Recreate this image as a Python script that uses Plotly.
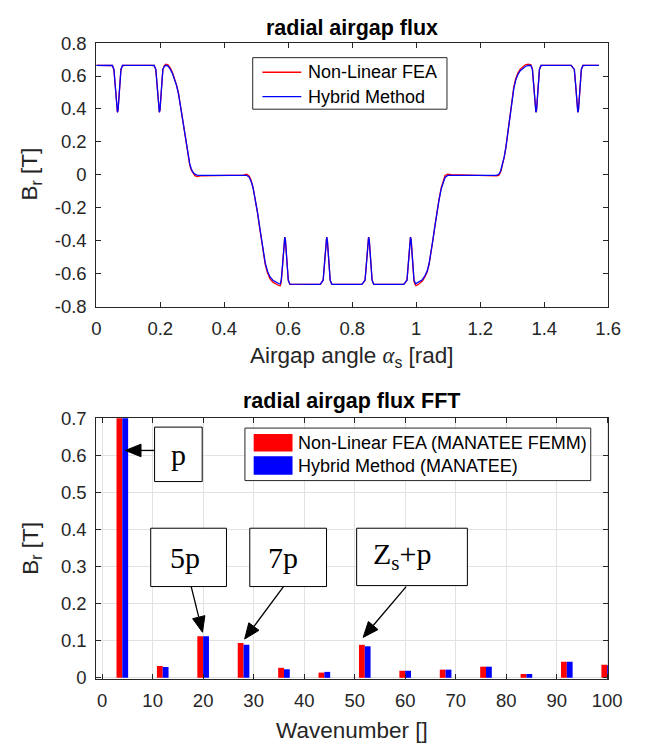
import math
import plotly.graph_objects as go

FW, FH = 664, 756

# ---------------- top chart data: radial airgap flux ----------------
alpha = [
    0.000, 0.040, 0.050, 0.055, 0.059, 0.062, 0.064, 0.066, 0.068, 0.070, 0.073, 0.077, 0.082, 0.090,
    0.170, 0.181, 0.186, 0.190, 0.193, 0.195, 0.197, 0.199, 0.201, 0.204, 0.208, 0.213, 0.218,
    0.224, 0.231, 0.238, 0.245, 0.251, 0.257, 0.262, 0.267, 0.272, 0.277, 0.282, 0.287, 0.292, 0.297, 0.302, 0.308, 0.315, 0.325,
    0.460, 0.470, 0.478, 0.484, 0.490, 0.497, 0.504, 0.510, 0.516, 0.522, 0.528, 0.535, 0.543, 0.552, 0.562, 0.570, 0.575,
    0.578, 0.582, 0.585, 0.587, 0.589, 0.591, 0.593, 0.596, 0.600, 0.605,
    0.700, 0.709, 0.713, 0.716, 0.718, 0.720, 0.722, 0.724, 0.727, 0.731, 0.736,
    0.830, 0.840, 0.844, 0.847, 0.849, 0.851, 0.853, 0.855, 0.858, 0.862, 0.867,
    0.961, 0.971, 0.975, 0.978, 0.980, 0.982, 0.984, 0.986, 0.989, 0.993, 0.998,
    1.003, 1.010, 1.019, 1.027, 1.034, 1.040, 1.046, 1.052, 1.058, 1.064, 1.071, 1.078, 1.084, 1.090, 1.098, 1.110,
    1.250, 1.258, 1.264, 1.270, 1.275, 1.280, 1.285, 1.290, 1.295, 1.300, 1.305, 1.311, 1.318, 1.325, 1.333, 1.341, 1.350, 1.358,
    1.363, 1.367, 1.370, 1.372, 1.374, 1.376, 1.378, 1.381, 1.385, 1.390, 1.398,
    1.484, 1.494, 1.498, 1.501, 1.503, 1.505, 1.507, 1.509, 1.512, 1.516, 1.521, 1.530, 1.571,
]

b_hybrid = [
    0.665, 0.665, 0.664, 0.640, 0.550, 0.450, 0.395, 0.380, 0.395, 0.450, 0.550, 0.640, 0.664, 0.665,
    0.665, 0.664, 0.640, 0.550, 0.450, 0.395, 0.380, 0.395, 0.450, 0.550, 0.640, 0.660, 0.665,
    0.660, 0.642, 0.615, 0.580, 0.540, 0.490, 0.430, 0.365, 0.300, 0.235, 0.170, 0.112, 0.066, 0.035, 0.016, 0.004, -0.002, -0.004,
    -0.003, -0.003, -0.015, -0.040, -0.080, -0.150, -0.230, -0.310, -0.390, -0.470, -0.535, -0.585, -0.620, -0.640, -0.653, -0.660, -0.663,
    -0.640, -0.550, -0.450, -0.395, -0.378, -0.395, -0.450, -0.550, -0.640, -0.664,
    -0.665, -0.640, -0.550, -0.450, -0.395, -0.378, -0.395, -0.450, -0.550, -0.640, -0.665,
    -0.665, -0.640, -0.550, -0.450, -0.395, -0.378, -0.395, -0.450, -0.550, -0.640, -0.665,
    -0.665, -0.640, -0.550, -0.450, -0.395, -0.378, -0.395, -0.450, -0.550, -0.640, -0.662,
    -0.655, -0.648, -0.637, -0.613, -0.585, -0.540, -0.475, -0.395, -0.315, -0.235, -0.155, -0.085, -0.042, -0.016, -0.004, -0.003,
    -0.003, 0.003, 0.025, 0.065, 0.110, 0.165, 0.240, 0.320, 0.400, 0.470, 0.525, 0.575, 0.610, 0.632, 0.648, 0.658, 0.664, 0.665,
    0.640, 0.550, 0.450, 0.395, 0.380, 0.395, 0.450, 0.550, 0.640, 0.664, 0.665,
    0.665, 0.640, 0.550, 0.450, 0.395, 0.380, 0.395, 0.450, 0.550, 0.640, 0.664, 0.665, 0.665,
]

b_fea = [
    0.665, 0.665, 0.664, 0.640, 0.550, 0.450, 0.395, 0.380, 0.395, 0.450, 0.550, 0.640, 0.664, 0.665,
    0.665, 0.664, 0.640, 0.550, 0.450, 0.395, 0.380, 0.395, 0.450, 0.550, 0.640, 0.664, 0.672,
    0.668, 0.650, 0.622, 0.586, 0.545, 0.494, 0.433, 0.367, 0.300, 0.233, 0.167, 0.108, 0.060, 0.028, 0.009, -0.005, -0.010, -0.006,
    -0.002, 0.004, -0.008, -0.035, -0.078, -0.150, -0.232, -0.315, -0.395, -0.478, -0.545, -0.595, -0.632, -0.652, -0.665, -0.672, -0.674,
    -0.650, -0.555, -0.452, -0.395, -0.378, -0.395, -0.450, -0.550, -0.640, -0.665,
    -0.665, -0.640, -0.550, -0.450, -0.395, -0.378, -0.395, -0.450, -0.550, -0.640, -0.665,
    -0.665, -0.640, -0.550, -0.450, -0.395, -0.378, -0.395, -0.450, -0.550, -0.640, -0.665,
    -0.665, -0.640, -0.550, -0.450, -0.395, -0.378, -0.395, -0.452, -0.555, -0.648, -0.672,
    -0.670, -0.660, -0.645, -0.620, -0.590, -0.545, -0.478, -0.397, -0.315, -0.233, -0.150, -0.078, -0.032, -0.004, 0.004, 0.001,
    -0.006, -0.004, 0.018, 0.060, 0.108, 0.165, 0.242, 0.325, 0.405, 0.478, 0.535, 0.585, 0.620, 0.642, 0.658, 0.668, 0.672, 0.668,
    0.645, 0.550, 0.450, 0.395, 0.380, 0.395, 0.450, 0.550, 0.640, 0.664, 0.665,
    0.665, 0.640, 0.550, 0.450, 0.395, 0.380, 0.395, 0.450, 0.550, 0.640, 0.664, 0.665, 0.665,
]

assert len(alpha) == len(b_hybrid) == len(b_fea), (len(alpha), len(b_hybrid), len(b_fea))

top_series_names = ["Non-Linear FEA", "Hybrid Method"]
top_xtick_vals = [0, 0.2, 0.4, 0.6, 0.8, 1.0, 1.2, 1.4, 1.6]
top_xtick_text = ["0", "0.2", "0.4", "0.6", "0.8", "1", "1.2", "1.4", "1.6"]
top_ytick_vals = [-0.8, -0.6, -0.4, -0.2, 0, 0.2, 0.4, 0.6, 0.8]
top_ytick_text = ["-0.8", "-0.6", "-0.4", "-0.2", "0", "0.2", "0.4", "0.6", "0.8"]

# ---------------- bottom chart data: FFT ----------------
wavenumber = [4, 12, 20, 28, 36, 44, 52, 60, 68, 76, 84, 92, 100]
fft_fea = [0.78, 0.032, 0.112, 0.094, 0.027, 0.014, 0.089, 0.019, 0.022, 0.030, 0.010, 0.043, 0.035]
fft_hybrid = [0.79, 0.029, 0.112, 0.089, 0.023, 0.016, 0.085, 0.019, 0.022, 0.030, 0.010, 0.043, 0.034]

bot_series_names = ["Non-Linear FEA (MANATEE FEMM)", "Hybrid Method (MANATEE)"]
bot_xtick_vals = [0, 10, 20, 30, 40, 50, 60, 70, 80, 90, 100]
bot_ytick_vals = [0, 0.1, 0.2, 0.3, 0.4, 0.5, 0.6, 0.7]

harmonic_labels = ["p", "5p", "7p", "Z<sub>s</sub>+p"]

# ---------------- helpers (pixel -> paper) ----------------
def PX(x):
    return x / FW

def PY(y):
    return 1 - y / FH

AX = "#262626"
FONT = "Liberation Sans"
SERIF = "Liberation Serif"
RED = "#ff0000"
BLUE = "#0000ff"

fig = go.Figure()

fig.add_trace(go.Scatter(x=alpha, y=b_fea, mode="lines", name=top_series_names[0],
                         line=dict(color=RED, width=1.3), xaxis="x", yaxis="y", showlegend=False))
fig.add_trace(go.Scatter(x=alpha, y=b_hybrid, mode="lines", name=top_series_names[1],
                         line=dict(color=BLUE, width=1.3), xaxis="x", yaxis="y", showlegend=False))

fig.add_trace(go.Bar(x=wavenumber, y=fft_fea, width=1.15, offset=-1.15,
                     marker=dict(color=RED, line=dict(width=0)),
                     name=bot_series_names[0], showlegend=False, xaxis="x2", yaxis="y2"))
fig.add_trace(go.Bar(x=wavenumber, y=fft_hybrid, width=1.15, offset=0,
                     marker=dict(color=BLUE, line=dict(width=0)),
                     name=bot_series_names[1], showlegend=False, xaxis="x2", yaxis="y2"))

axis_common = dict(showline=True, linecolor=AX, linewidth=1, mirror="ticks",
                   ticks="inside", ticklen=5, tickcolor=AX, zeroline=False,
                   tickfont=dict(family=FONT, size=18.5, color=AX))

xdom = [PX(94), PX(621)]
fig.update_layout(
    width=FW, height=FH,
    margin=dict(l=0, r=0, t=0, b=0),
    paper_bgcolor="white", plot_bgcolor="white",
    barmode="overlay",
    showlegend=False,
    xaxis=dict(domain=xdom, anchor="y", range=[0, 1.6], tickvals=top_xtick_vals,
               ticktext=top_xtick_text, showgrid=False, ticklabelstandoff=5, **axis_common),
    yaxis=dict(domain=[PY(304), PY(33)], anchor="x", range=[-0.8, 0.8],
               tickvals=top_ytick_vals, ticktext=top_ytick_text, showgrid=False,
               ticklabelstandoff=5, **axis_common),
    xaxis2=dict(domain=xdom, anchor="y2", range=[-1.15, 100.2], tickvals=bot_xtick_vals,
                showgrid=True, gridcolor="#e2e2e2", gridwidth=1, ticklabelstandoff=5,
                **axis_common),
    yaxis2=dict(domain=[PY(687), PY(419)], anchor="x2", range=[-0.003, 0.7],
                tickvals=bot_ytick_vals, showgrid=True, gridcolor="#e2e2e2", gridwidth=1,
                ticklabelstandoff=5, **axis_common),
)

annotations = []
shapes = []

def text_at(text, x, y, size, family=FONT, color="#000000", xanchor="center", angle=0):
    annotations.append(dict(text=text, x=PX(x), y=PY(y), xref="paper", yref="paper",
                            showarrow=False, xanchor=xanchor, yanchor="middle", textangle=angle,
                            font=dict(family=family, size=size, color=color)))

def rect(x0, x1, y0, y1, fill, line_color=None):
    shapes.append(dict(type="rect", xref="paper", yref="paper", x0=PX(x0), x1=PX(x1),
                       y0=PY(y1), y1=PY(y0), fillcolor=fill, layer="above",
                       line=dict(color=line_color or fill, width=1 if line_color else 0)))

# titles
text_at("<b>radial airgap flux</b>", 357, 17, 21.5)
text_at("<b>radial airgap flux FFT</b>", 357, 401, 21.5)
# axis titles
text_at("Airgap angle <span style='font-family:Liberation Serif'><i>α</i></span><sub>s</sub> [rad]",
        357, 356, 22.5, color=AX)
text_at("B<sub>r</sub> [T]", 27, 168, 22.5, color=AX, angle=-90)
text_at("Wavenumber []", 357, 740, 22.5, color=AX)
text_at("B<sub>r</sub> [T]", 27, 553, 22.5, color=AX, angle=-90)

# top legend (drawn)
rect(255, 455, 48, 101, "white", AX)
for name, color, yy in zip(top_series_names, [RED, BLUE], [63, 88]):
    shapes.append(dict(type="line", xref="paper", yref="paper", x0=PX(265), x1=PX(305),
                       y0=PY(yy), y1=PY(yy), line=dict(color=color, width=1.3), layer="above"))
    text_at(name, 310, yy, 18, xanchor="left")

# bottom legend (drawn)
rect(247, 603, 429, 483, "white", AX)
for name, color, (y0, y1) in zip(bot_series_names, [RED, BLUE], [(435, 453), (458, 477)]):
    rect(256, 296, y0, y1, color)
    text_at(name, 300, (y0 + y1) / 2, 18, xanchor="left")

# callout boxes: (x0, x1, y0, y1, text centre x, text centre y) in px
boxes = [
    (154, 203, 428, 484, 178.6, 456),
    (150, 228, 532, 592, 185, 562),
    (252, 331, 532, 592, 286, 562),
    (362, 476, 532, 591, 409, 561),
]
for label, (x0, x1, y0, y1, tx, ty) in zip(harmonic_labels, boxes):
    rect(x0, x1, y0, y1, "white", "#000000")
    text_at(label, tx, ty, 30, family=SERIF)

# arrows: (tail, tip) in px
arrows = [
    ((154, 452), (124, 452)),
    ((191.7, 592), (203.3, 639)),
    ((286.7, 592), (246.7, 646)),
    ((413, 592), (368.7, 644.3)),
]
HEAD_L, HEAD_W = 16, 6.5
for (sx, sy), (tx, ty) in arrows:
    dx, dy = tx - sx, ty - sy
    L = math.hypot(dx, dy)
    ux, uy = dx / L, dy / L
    bx, by = tx - ux * HEAD_L, ty - uy * HEAD_L
    nx, ny = -uy, ux
    shapes.append(dict(type="line", xref="paper", yref="paper", x0=PX(sx), y0=PY(sy),
                       x1=PX(bx), y1=PY(by), line=dict(color="#000000", width=1.3), layer="above"))
    p1 = (bx + nx * HEAD_W, by + ny * HEAD_W)
    p2 = (bx - nx * HEAD_W, by - ny * HEAD_W)
    path = "M {:.5f},{:.5f} L {:.5f},{:.5f} L {:.5f},{:.5f} Z".format(
        PX(tx), PY(ty), PX(p1[0]), PY(p1[1]), PX(p2[0]), PY(p2[1]))
    shapes.append(dict(type="path", xref="paper", yref="paper", path=path,
                       fillcolor="#000000", line=dict(color="#000000", width=1), layer="above"))

fig.update_layout(annotations=annotations, shapes=shapes)

fig.write_html("out.html")
